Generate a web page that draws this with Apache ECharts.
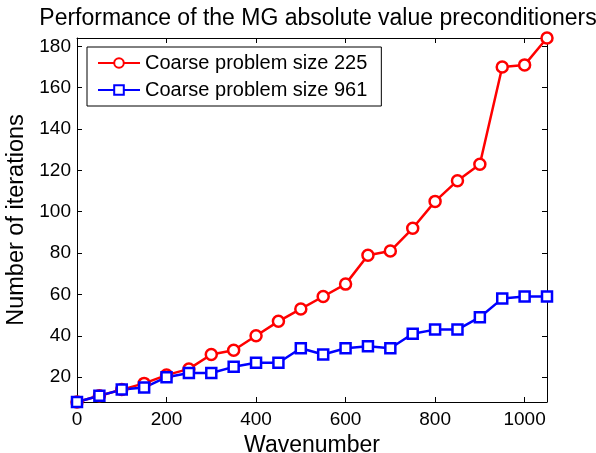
<!DOCTYPE html>
<html><head><meta charset="utf-8">
<script src="https://cdn.jsdelivr.net/npm/echarts@6/dist/echarts.min.js"></script>
<style>html,body{margin:0;padding:0;background:#fff}#c{width:596px;height:453px}</style>
</head><body><div id="c"></div>
<script>
const wavenumbers = [0,50,100,150,200,250,300,350,400,450,500,550,600,650,700,750,800,850,900,950,1000,1050];
const coarse225 = [8,11,14,17,21,24,31,33,40,47,53,59,65,79,81,92,105,115,123,170,171,184];
const coarse961 = [8,11,14,15,20,22,22,25,27,27,34,31,34,35,34,41,43,43,49,58,59,59];
const xTicks = [0,200,400,600,800,1000];
const yTicks = [20,40,60,80,100,120,140,160,180];
const seriesNames = ['Coarse problem size 225','Coarse problem size 961'];
const titleText = 'Performance of the MG absolute value preconditioners';

const FONT = '"Liberation Sans", Arial, Helvetica, sans-serif';
const chart = echarts.init(document.getElementById('c'), null, {renderer:'canvas'});
function xAx(pos, show){
  return {type:'value', position:pos, min:0, max:1050,
    axisLine:{show:true, onZero:false, lineStyle:{color:'#000', width:1}},
    axisTick:{show:true, inside:true, length:5, customValues:xTicks, lineStyle:{color:'#000'}},
    axisLabel:{show:show, customValues:xTicks, formatter:v=>String(v), color:'#000', fontSize:19, fontFamily:FONT, margin:8},
    splitLine:{show:false},
    name: show ? 'Wavenumber' : '', nameLocation:'middle', nameGap:29,
    nameTextStyle:{color:'#000', fontSize:23, fontFamily:FONT}};
}
function yAx(pos, show){
  return {type:'value', position:pos, min:8, max:184,
    axisLine:{show:true, onZero:false, lineStyle:{color:'#000', width:1}},
    axisTick:{show:true, inside:true, length:5, customValues:yTicks, lineStyle:{color:'#000'}},
    axisLabel:{show:show, customValues:yTicks, formatter:v=>String(v), color:'#000', fontSize:19, fontFamily:FONT, margin:6},
    splitLine:{show:false},
    name: show ? 'Number of iterations' : '', nameLocation:'middle', nameGap:40,
    nameTextStyle:{color:'#000', fontSize:23.5, fontFamily:FONT}};
}
chart.setOption({
  animation:false,
  backgroundColor:'#fff',
  title:{text:titleText, left:313, top:2, textAlign:'center',
    textStyle:{color:'#000', fontSize:23, fontWeight:'normal', fontFamily:FONT}},
  grid:{left:77, right:49, top:38, bottom:51, containLabel:false, outerBoundsMode:'none'},
  xAxis:[xAx('bottom', true), xAx('top', false)],
  yAxis:[yAx('left', true), yAx('right', false)],
  legend:{left:87, top:47, orient:'vertical', backgroundColor:'#fff', borderColor:'#000', borderWidth:1,
    padding:[6,14,6,10], itemGap:7, itemWidth:42, itemHeight:12,
    textStyle:{color:'#000', fontSize:20, fontFamily:FONT}, data:seriesNames},
  series:[
    {name:seriesNames[0], type:'line', data:wavenumbers.map((x,i)=>[x,coarse225[i]]),
      symbol:'circle', symbolSize:11, showAllSymbol:true,
      lineStyle:{color:'#ff0000', width:2.5}, itemStyle:{color:'#fff', borderColor:'#ff0000', borderWidth:2.5}, color:'#ff0000'},
    {name:seriesNames[1], type:'line', data:wavenumbers.map((x,i)=>[x,coarse961[i]]),
      symbol:'rect', symbolSize:10, showAllSymbol:true,
      lineStyle:{color:'#0000ff', width:2.5}, itemStyle:{color:'#fff', borderColor:'#0000ff', borderWidth:2.5}, color:'#0000ff'}
  ]
});
</script></body></html>
